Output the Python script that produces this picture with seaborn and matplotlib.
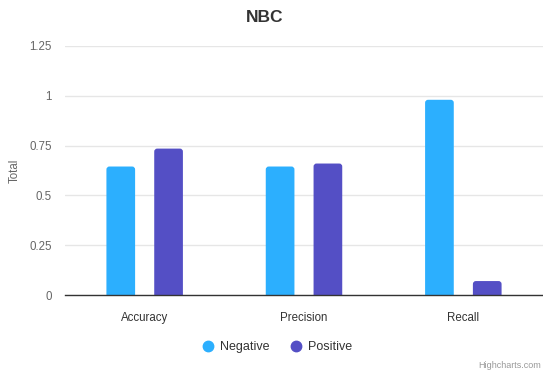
import matplotlib
matplotlib.use("Agg")
import matplotlib.pyplot as plt
import seaborn as sns
import pandas as pd
from matplotlib.lines import Line2D
from matplotlib.patches import FancyBboxPatch

categories = ["Accuracy", "Precision", "Recall"]
negative = [0.645, 0.645, 0.98]
positive = [0.735, 0.66, 0.07]
series_names = ["Negative", "Positive"]
y_ticks = [0, 0.25, 0.5, 0.75, 1, 1.25]
y_tick_labels = ["0", "0.25", "0.5", "0.75", "1", "1.25"]
colors = ["#2caffe", "#544fc5"]

df = pd.DataFrame({
    "metric": categories * 2,
    "series": [series_names[0]] * 3 + [series_names[1]] * 3,
    "value": negative + positive,
})

sns.set_style("white")
plt.rcParams["font.family"] = ["Liberation Sans", "DejaVu Sans"]

fig = plt.figure(figsize=(5.43, 3.71), dpi=100)
ax = fig.add_axes([65 / 543, 1 - 295 / 371, 478 / 543, 249 / 371])

sns.barplot(data=df, x="metric", y="value", hue="series", order=categories,
            hue_order=series_names, palette=colors, width=0.6, gap=0.4,
            saturation=1, legend=False, ax=ax, zorder=3)

ax.set_ylim(0, 1.25)
ax.set_xlim(-0.5, 2.5)

# Round the top corners of each bar (bottom corners sit below the axis and are clipped)
px_per_x = 478 / 3
px_per_y = 249 / 1.25
radius = 3 / px_per_x
aspect = px_per_x / px_per_y
for bar in list(ax.patches):
    x, y = bar.get_x(), bar.get_y()
    w, h = bar.get_width(), bar.get_height()
    fc = bar.get_facecolor()
    bar.remove()
    extra = 0.02
    rounded = FancyBboxPatch((x, y - extra), w, h + extra,
                             boxstyle=f"round,pad=0,rounding_size={radius}",
                             mutation_aspect=aspect, facecolor=fc,
                             edgecolor="none", zorder=3, clip_on=True)
    ax.add_patch(rounded)

ax.set_yticks(y_ticks)
ax.set_yticklabels(y_tick_labels)
ax.yaxis.grid(True, color="#e6e6e6", linewidth=1, zorder=0)
ax.set_axisbelow(True)
for side in ["top", "right", "left"]:
    ax.spines[side].set_visible(False)
ax.spines["bottom"].set_color("#333333")
ax.spines["bottom"].set_linewidth(1)
ax.spines["bottom"].set_zorder(4)
ax.tick_params(axis="y", length=0, pad=9.5, labelsize=8.3, labelcolor="#666666")
ax.tick_params(axis="x", length=0, pad=12, labelsize=8.3, labelcolor="#333333")
ax.set_xlabel("")
ax.set_ylabel("Total", fontsize=8.3, color="#666666")
ax.yaxis.set_label_coords(-(65 - 21) / 478, 0.5)

fig.text(265 / 543, 1 - 18 / 371, "NBC", ha="center", va="center",
         fontsize=12.5, fontweight="bold", color="#333333")

handles = [Line2D([0], [0], marker="o", linestyle="", markersize=7.5,
                  markerfacecolor=c, markeredgecolor=c) for c in colors]
fig.legend(handles, series_names, loc="center", bbox_to_anchor=(0.51, 1 - 347 / 371),
           ncol=2, frameon=False, fontsize=9, labelcolor="#333333",
           handletextpad=0.45, columnspacing=1.6, handlelength=1.0)

fig.text(541 / 543, 1 - 366 / 371, "Highcharts.com", ha="right", va="center",
         fontsize=6.5, color="#999999")

fig.savefig("out.png", dpi=100)
